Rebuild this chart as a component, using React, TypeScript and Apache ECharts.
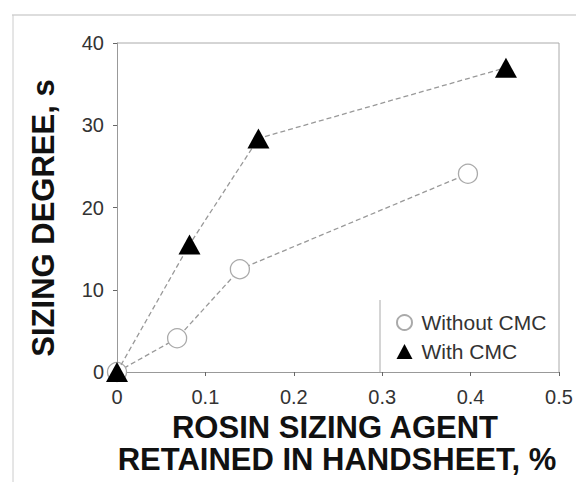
import React, { useEffect, useRef } from "react";
import * as echarts from "echarts";

const xTicks = [0, 0.1, 0.2, 0.3, 0.4, 0.5];
const yTicks = [0, 10, 20, 30, 40];
const withoutCMC: [number, number][] = [
  [0, 0],
  [0.068, 4.1],
  [0.139, 12.5],
  [0.397, 24.1],
];
const withCMC: [number, number][] = [
  [0, 0],
  [0.082, 15.5],
  [0.16, 28.4],
  [0.44, 37],
];
const seriesNames = ["Without CMC", "With CMC"];
const xTitle = ["ROSIN SIZING AGENT", "RETAINED IN HANDSHEET, %"];
const yTitle = "SIZING DEGREE, s";

const FONT = "Liberation Sans, Arial, sans-serif";

export default function App() {
  const ref = useRef<HTMLDivElement>(null);
  useEffect(() => {
    if (!ref.current) return;
    const chart = echarts.init(ref.current, undefined, { renderer: "svg" });
    chart.setOption({
      animation: false,
      backgroundColor: "#fff",
      grid: { left: 117, top: 43, right: 17, bottom: 110 },
      xAxis: {
        type: "value",
        min: 0,
        max: 0.5,
        interval: 0.1,
        axisLine: { show: true, lineStyle: { color: "#999", width: 1 } },
        axisTick: { show: true, length: 4, lineStyle: { color: "#666" } },
        splitLine: { show: false },
        axisLabel: {
          color: "#333",
          fontSize: 20,
          fontFamily: FONT,
          margin: 15,
          formatter: (v: number) => {
            const r = Math.round(v * 10) / 10;
            return xTicks.includes(r) ? String(r) : "";
          },
        },
      },
      yAxis: {
        type: "value",
        min: 0,
        max: 40,
        interval: 10,
        axisLine: { show: true, lineStyle: { color: "#999", width: 1 } },
        axisTick: { show: true, length: 4, lineStyle: { color: "#666" } },
        splitLine: { show: false },
        axisLabel: {
          color: "#333",
          fontSize: 20,
          fontFamily: FONT,
          margin: 13,
          formatter: (v: number) => (yTicks.includes(v) ? String(v) : ""),
        },
      },
      legend: {
        orient: "vertical",
        left: 391,
        top: 307,
        itemGap: 8,
        itemWidth: 16,
        itemHeight: 15,
        textStyle: { fontSize: 21, fontFamily: FONT, color: "#333", padding: [0, 0, 0, 4] },
        data: [
          { name: seriesNames[0], icon: "circle" },
          { name: seriesNames[1], icon: "triangle" },
        ],
      },
      series: [
        {
          name: seriesNames[0],
          type: "line",
          data: withoutCMC,
          symbol: "circle",
          symbolSize: 19,
          itemStyle: { color: "#fff", borderColor: "#aaa", borderWidth: 1.3 },
          lineStyle: { color: "#999", width: 1.3, type: [5, 3] },
          z: 2,
        },
        {
          name: seriesNames[1],
          type: "line",
          data: withCMC,
          symbol: "triangle",
          symbolSize: [22, 20],
          itemStyle: { color: "#000" },
          lineStyle: { color: "#999", width: 1.3, type: [5, 3] },
          z: 3,
        },
      ],
      graphic: [
        {
          type: "line",
          shape: { x1: 12, y1: 15, x2: 576, y2: 15 },
          style: { stroke: "#bbb", lineWidth: 1 },
        },
        {
          type: "line",
          shape: { x1: 13, y1: 15, x2: 13, y2: 482 },
          style: { stroke: "#ccc", lineWidth: 1 },
        },
        {
          type: "line",
          shape: { x1: 380, y1: 300, x2: 380, y2: 372 },
          style: { stroke: "#aaa", lineWidth: 1 },
        },
        {
          type: "line",
          shape: { x1: 117, y1: 43, x2: 559, y2: 43 },
          style: { stroke: "#aaa", lineWidth: 1 },
        },
        {
          type: "line",
          shape: { x1: 559, y1: 43, x2: 559, y2: 372 },
          style: { stroke: "#aaa", lineWidth: 1 },
        },
        {
          type: "text",
          x: 335,
          y: 427,
          style: {
            text: xTitle[0],
            fontSize: 31,
            fontWeight: "bold",
            fontFamily: FONT,
            fill: "#111",
            align: "center",
            verticalAlign: "middle",
          },
        },
        {
          type: "text",
          x: 337,
          y: 459,
          style: {
            text: xTitle[1],
            fontSize: 31,
            fontWeight: "bold",
            fontFamily: FONT,
            fill: "#111",
            align: "center",
            verticalAlign: "middle",
          },
        },
        {
          type: "text",
          x: 43,
          y: 218,
          rotation: Math.PI / 2,
          style: {
            text: yTitle,
            fontSize: 31,
            fontWeight: "bold",
            fontFamily: FONT,
            fill: "#111",
            align: "center",
            verticalAlign: "middle",
          },
        },
      ],
    });
    return () => chart.dispose();
  }, []);
  return <div ref={ref} style={{ width: 576, height: 482, position: "absolute", left: 0, top: 0 }} />;
}
